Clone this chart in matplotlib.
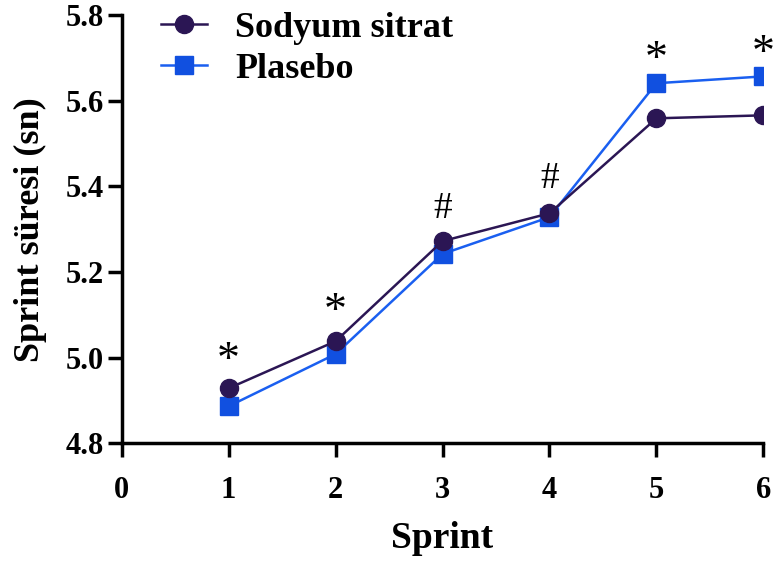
import matplotlib.pyplot as plt

plt.rcParams['font.family'] = ['Liberation Serif', 'DejaVu Serif']
plt.rcParams['font.weight'] = 'bold'

# data
sprints = [1, 2, 3, 4, 5, 6]
sodyum = [4.928, 5.038, 5.272, 5.337, 5.559, 5.566]
plasebo = [4.886, 5.008, 5.242, 5.328, 5.641, 5.657]
marks = ['*', '*', '#', '#', '*', '*']
mark_y = [4.99, 5.105, 5.347, 5.417, 5.694, 5.708]

fig = plt.figure(figsize=(7.75, 5.63), dpi=100)
ax = fig.add_axes([0.157, 0.213, 0.828, 0.76])

ax.plot(sprints, plasebo, color='#1a5ff0', lw=1.8, marker='s', ms=12.5,
        mfc='#1150e0', mec='#1150e0', label='Plasebo', zorder=2)
ax.plot(sprints, sodyum, color='#2b1654', lw=1.8, marker='o', ms=13,
        mfc='#2b1654', mec='#2b1654', label='Sodyum sitrat', zorder=3)

# significance marks
for x, y, m in zip(sprints, mark_y, marks):
    size = 33 if m == '*' else 27
    ax.text(x, y, m, ha='center', va='center', fontsize=size,
            fontweight='normal', clip_on=False)

ax.set_xlim(0, 6)
ax.set_ylim(4.8, 5.8)
ax.set_xticks([0, 1, 2, 3, 4, 5, 6])
ax.set_yticks([4.8, 5.0, 5.2, 5.4, 5.6, 5.8])
ax.set_yticklabels(['4.8', '5.0', '5.2', '5.4', '5.6', '5.8'])

for s in ['top', 'right']:
    ax.spines[s].set_visible(False)
for s in ['left', 'bottom']:
    ax.spines[s].set_linewidth(2.5)
ax.tick_params(axis='both', width=2.5, length=10, labelsize=22)
ax.tick_params(axis='y', pad=3)
ax.tick_params(axis='x', pad=14)

ax.set_xlabel('Sprint', fontsize=27, fontweight='bold', labelpad=11)
ax.set_ylabel('Sprint süresi (sn)', fontsize=26, fontweight='bold', labelpad=13)

h, l = ax.get_legend_handles_labels()
ax.legend(h[::-1], l[::-1], loc='upper left', bbox_to_anchor=(0.062, 1.008),
          frameon=False, borderpad=0, borderaxespad=0, handlelength=1.25,
          handletextpad=0.8, labelspacing=0.2,
          prop={'weight': 'bold', 'size': 26})

fig.savefig('out.png', dpi=100)
